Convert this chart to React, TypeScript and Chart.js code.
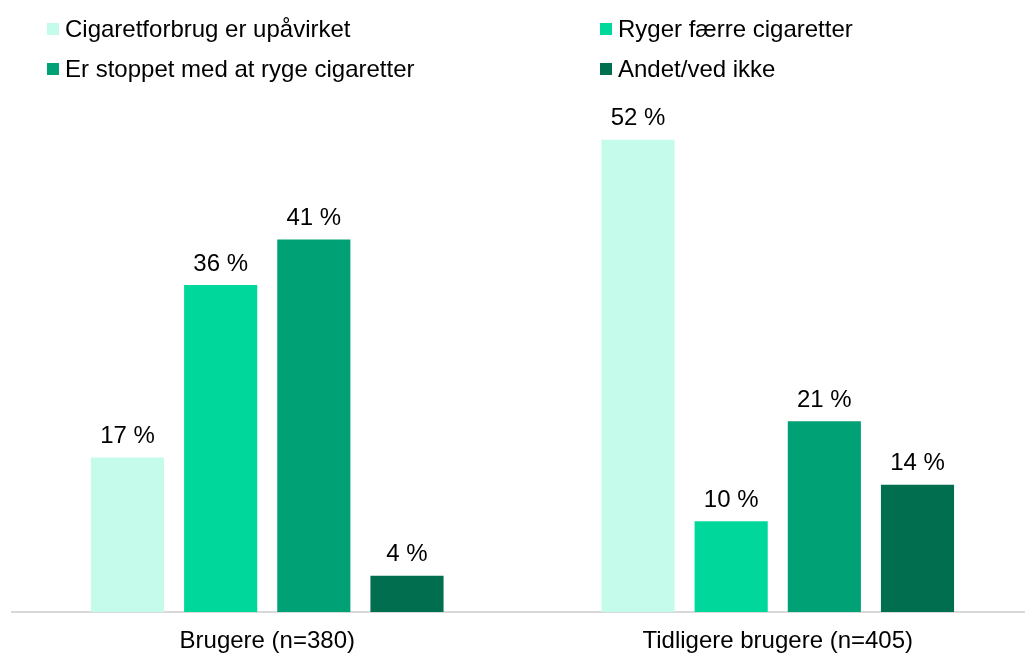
import React, { useEffect, useRef } from "react";
import { Chart, registerables } from "chart.js";

Chart.register(...registerables);

const categories = ["Brugere (n=380)", "Tidligere brugere (n=405)"];
const seriesNames = [
  "Cigaretforbrug er upåvirket",
  "Ryger færre cigaretter",
  "Er stoppet med at ryge cigaretter",
  "Andet/ved ikke",
];
const seriesColors = ["#C5FBEA", "#00D89B", "#00A175", "#006E4F"];
const upaavirket = [17, 52];
const faerre = [36, 10];
const stoppet = [41, 21];
const andet = [4, 14];
const seriesValues = [upaavirket, faerre, stoppet, andet];

const FONT = "'Liberation Sans', Arial, sans-serif";

const valueLabels = {
  id: "valueLabels",
  afterDatasetsDraw(chart: any) {
    const ctx = chart.ctx;
    ctx.save();
    ctx.font = `24px ${FONT}`;
    ctx.fillStyle = "#000";
    ctx.textAlign = "center";
    ctx.textBaseline = "middle";
    chart.data.datasets.forEach((ds: any, i: number) => {
      const meta = chart.getDatasetMeta(i);
      meta.data.forEach((bar: any, j: number) => {
        ctx.fillText(`${ds.data[j]} %`, bar.x, bar.y - 21);
      });
    });
    ctx.restore();
  },
};

const gridLegend = {
  id: "gridLegend",
  afterDraw(chart: any) {
    const ctx = chart.ctx;
    const colX = [47, 600];
    const rowY = [29, 69];
    ctx.save();
    ctx.font = `24px ${FONT}`;
    ctx.textBaseline = "middle";
    ctx.textAlign = "left";
    chart.data.datasets.forEach((ds: any, i: number) => {
      const x = colX[i % 2];
      const y = rowY[Math.floor(i / 2)];
      ctx.fillStyle = ds.backgroundColor;
      ctx.fillRect(x, y - 6, 12, 12);
      ctx.fillStyle = "#000";
      ctx.fillText(ds.label, x + 18, y + 1);
    });
    ctx.restore();
  },
};

export default function App() {
  const ref = useRef<HTMLCanvasElement>(null);
  useEffect(() => {
    if (!ref.current) return;
    const chart = new Chart(ref.current, {
      type: "bar",
      data: {
        labels: categories,
        datasets: seriesNames.map((name, i) => ({
          label: name,
          data: seriesValues[i],
          backgroundColor: seriesColors[i],
          borderWidth: 0,
          barPercentage: 0.785,
          categoryPercentage: 0.73,
        })),
      },
      options: {
        responsive: false,
        animation: false,
        layout: { padding: { left: 12, right: 7, top: 67, bottom: 0 } },
        plugins: { legend: { display: false }, tooltip: { enabled: false } },
        scales: {
          x: {
            grid: { display: false, drawTicks: false },
            border: { display: true, color: "#D9D9D9", width: 2 },
            ticks: { color: "#000", font: { family: FONT, size: 24, lineHeight: 1 }, padding: 17 },
            afterFit: (s: any) => {
              s.height = 42;
            },
          },
          y: { display: false, min: 0, max: 60 },
        },
      },
      plugins: [valueLabels, gridLegend],
    });
    return () => chart.destroy();
  }, []);
  return (
    <div style={{ position: "fixed", left: 0, top: 0, width: 1025, height: 654, overflow: "hidden", background: "#fff" }}>
      <canvas ref={ref} width={1040} height={654} style={{ position: "absolute", left: 0, top: 0, width: 1040, height: 654 }} />
    </div>
  );
}
